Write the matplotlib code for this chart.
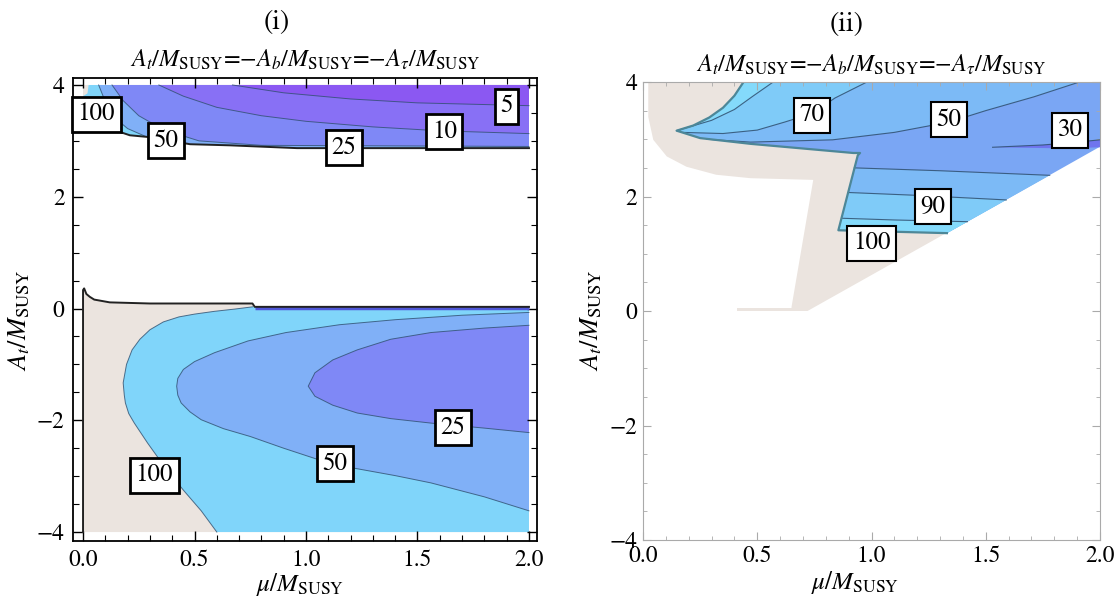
import matplotlib
matplotlib.use('Agg')
import matplotlib.pyplot as plt
from matplotlib.ticker import FixedLocator, FormatStrFormatter
import numpy as np

plt.rcParams['font.family'] = 'STIXGeneral'
plt.rcParams['mathtext.fontset'] = 'stix'

# ---------------- panel (i) data (contours) ----------------
# lower region: upper edge (black line), starts up the x=0 edge
low_top_x = [0.0, 0.0, 0.005, 0.015, 0.03, 0.05, 0.12, 0.30, 0.76, 0.77, 2.0]
low_top_y = [-4.0, 0.33, 0.36, 0.26, 0.21, 0.16, 0.11, 0.09, 0.09, 0.03, 0.03]
# contour 100 (beige | 50-100)
c100_low_x = [0.76, 0.68, 0.59, 0.50, 0.43, 0.36, 0.30, 0.255, 0.22, 0.195, 0.18,
              0.185, 0.19, 0.205, 0.23, 0.26, 0.29, 0.36, 0.45, 0.53, 0.60]
c100_low_y = [0.03, -0.01, -0.05, -0.10, -0.15, -0.24, -0.38, -0.55, -0.74, -1.00, -1.33,
              -1.55, -1.69, -1.88, -2.05, -2.23, -2.41, -2.80, -3.25, -3.62, -4.0]
# contour 50
c50_low_x = [2.0, 1.70, 1.40, 1.15, 0.91, 0.74, 0.59, 0.50, 0.45, 0.425, 0.42, 0.425,
             0.44, 0.48, 0.53, 0.63, 0.75, 0.90, 1.06, 1.22, 1.40, 1.56, 1.80, 2.0]
c50_low_y = [-0.07, -0.12, -0.20, -0.29, -0.43, -0.58, -0.79, -0.95, -1.09, -1.25, -1.39, -1.55,
             -1.69, -1.85, -1.99, -2.15, -2.29, -2.50, -2.71, -2.86, -2.99, -3.12, -3.37, -3.62]
# contour 25
c25_low_x = [2.0, 1.80, 1.56, 1.38, 1.23, 1.12, 1.04, 1.01, 1.04, 1.12, 1.23, 1.38, 1.56, 1.80, 2.0]
c25_low_y = [-0.30, -0.35, -0.43, -0.55, -0.74, -0.92, -1.15, -1.39, -1.57, -1.73, -1.87,
             -1.97, -2.05, -2.14, -2.22]

# upper region: lower edge (black line)
top_bot_x = [0.0, 0.10, 0.15, 0.21, 0.29, 0.48, 0.66, 0.96, 2.0]
top_bot_y = [3.22, 3.20, 3.18, 3.10, 3.07, 2.94, 2.92, 2.87, 2.87]
c100_top_x = [0.0, 0.025, 0.02, 0.0]
c100_top_y = [4.0, 4.0, 3.85, 3.8]
c50_top_x = [0.07, 0.10, 0.14, 0.20, 0.28]
c50_top_y = [4.0, 3.70, 3.42, 3.22, 3.08]
c25_top_x = [0.13, 0.18, 0.25, 0.36, 0.52, 0.80, 2.0]
c25_top_y = [4.0, 3.72, 3.45, 3.20, 3.00, 2.92, 2.90]
c10_top_x = [0.34, 0.45, 0.60, 0.80, 1.00, 1.30, 1.60, 2.0]
c10_top_y = [4.0, 3.80, 3.60, 3.45, 3.35, 3.25, 3.18, 3.13]
c5_top_x = [0.67, 0.90, 1.20, 1.50, 2.0]
c5_top_y = [4.0, 3.86, 3.75, 3.68, 3.63]

labels_i = ['100', '50', '25', '10', '5', '100', '50', '25']
labels_i_x = [0.06, 0.37, 1.17, 1.62, 1.90, 0.32, 1.13, 1.66]
labels_i_y = [3.48, 3.00, 2.88, 3.16, 3.62, -2.98, -2.78, -2.13]

# ---------------- panel (ii) data ----------------
r_outer_x = [0.023, 0.023, 0.045, 0.104, 0.19, 0.32, 0.47, 0.745, 0.65, 0.65]
r_outer_y = [4.0, 3.39, 2.99, 2.70, 2.52, 2.38, 2.32, 2.29, 0.07, 0.0]
diag_x = [0.72, 2.0]
diag_y = [0.0, 2.87]
strip_x = [0.41, 0.65]
arm_up_x = [0.147, 0.22, 0.29, 0.35, 0.40, 0.44]
arm_up_y = [3.15, 3.24, 3.38, 3.55, 3.76, 4.0]
arm_low_x = [0.92, 0.47, 0.25, 0.147]
arm_low_y = [2.76, 2.92, 3.02, 3.15]
low_left_x = [0.855, 0.94, 0.95]
low_left_y = [1.41, 2.72, 2.76]
low_bot_x = [0.855, 1.33]
low_bot_y = [1.41, 1.36]
# contours in the arm
c90_arm_x = [0.147, 0.30, 0.40, 0.48, 0.57]
c90_arm_y = [3.15, 3.33, 3.52, 3.75, 4.0]
c70_arm_x = [0.17, 0.35, 0.50, 0.62, 0.74, 0.84, 0.98]
c70_arm_y = [3.12, 3.10, 3.16, 3.30, 3.45, 3.72, 4.0]
c50_arm_x = [0.28, 0.47, 0.83, 1.10, 1.34, 1.50, 1.71, 1.91]
c50_arm_y = [3.00, 2.95, 2.99, 3.12, 3.30, 3.50, 3.74, 4.0]
# contours in the lower part
c50_lo_x = [0.925, 1.30, 1.78]
c50_lo_y = [2.50, 2.45, 2.37]
c70_lo_x = [0.898, 1.20, 1.59]
c70_lo_y = [2.07, 2.02, 1.94]
c90_lo_x = [0.87, 1.10, 1.42]
c90_lo_y = [1.62, 1.59, 1.56]
c30_x = [1.53, 1.75, 1.90, 2.0, 2.0, 1.85]
c30_y = [2.86, 2.90, 2.95, 2.99, 2.86, 2.84]

labels_ii = ['70', '50', '30', '90', '100']
labels_ii_x = [0.74, 1.34, 1.87, 1.27, 1.00]
labels_ii_y = [3.42, 3.34, 3.16, 1.82, 1.18]

# colours
BEIGE = '#ebe4df'
L_50_100 = '#80d5fa'
L_25_50 = '#80b0f7'
L_10_25 = '#7f88f6'
L_5_10 = '#8870f5'
L_LT5 = '#8b58f2'
R_90 = '#84dafb'
R_70 = '#7fcbf8'
R_50 = '#7cbaf6'
R_30 = '#7aa6f4'
R_LT30 = '#6f74ee'
LINE = '#2f4f6f'


def diag_at(x):
    return diag_y[0] + (x - diag_x[0]) / (diag_x[1] - diag_x[0]) * (diag_y[1] - diag_y[0])


fig = plt.figure(figsize=(11.18, 6.01), dpi=100)
ax1 = fig.add_axes([73 / 1118, 1 - 541 / 601, 464 / 1118, 463 / 601])
ax2 = fig.add_axes([643 / 1118, 1 - 540 / 601, 457 / 1118, 458 / 601])

# ---------- panel (i) ----------
ax = ax1
# lower region
ax.fill(low_top_x + [2.0], low_top_y + [-4.0], color=BEIGE, lw=0)
ax.fill(c100_low_x + [2.0, 2.0], c100_low_y + [-4.0, 0.03], color=L_50_100, lw=0)
ax.fill(c50_low_x, c50_low_y, color=L_25_50, lw=0)
ax.fill(c25_low_x, c25_low_y, color=L_10_25, lw=0)
for xs, ys in [(c100_low_x, c100_low_y), (c50_low_x, c50_low_y), (c25_low_x, c25_low_y)]:
    ax.plot(xs, ys, color=LINE, lw=0.7, alpha=0.8)
ax.plot([0.77, 2.0], [0.015, 0.015], color='#5058d8', lw=2.5, solid_capstyle='butt')
ax.plot(low_top_x, low_top_y, color='#222222', lw=1.4)

# upper region
ax.fill([0.0, 2.0] + top_bot_x[::-1], [4.0, 4.0] + top_bot_y[::-1], color=L_50_100, lw=0)
ax.fill(c100_top_x, c100_top_y, color=BEIGE, lw=0)
ax.fill(c50_top_x + [x for x in top_bot_x if x > c50_top_x[-1]] + [2.0],
        c50_top_y + [y for x, y in zip(top_bot_x, top_bot_y) if x > c50_top_x[-1]] + [4.0],
        color=L_25_50, lw=0)
ax.fill(c25_top_x + [2.0], c25_top_y + [4.0], color=L_10_25, lw=0)
ax.fill(c10_top_x + [2.0], c10_top_y + [4.0], color=L_5_10, lw=0)
ax.fill(c5_top_x + [2.0], c5_top_y + [4.0], color=L_LT5, lw=0)
for xs, ys in [(c50_top_x, c50_top_y), (c25_top_x, c25_top_y),
               (c10_top_x, c10_top_y), (c5_top_x, c5_top_y)]:
    ax.plot(xs, ys, color=LINE, lw=0.7, alpha=0.8)
ax.plot(top_bot_x, top_bot_y, color='#222222', lw=1.4)

for t, x, y in zip(labels_i, labels_i_x, labels_i_y):
    ax.text(x, y, t, ha='center', va='center', fontsize=18,
            bbox=dict(boxstyle='square,pad=0.22', fc='white', ec='black', lw=2))

ax.set_xlim(-0.045, 2.036)
ax.set_ylim(-4.16, 4.125)
ax.xaxis.set_major_locator(FixedLocator([0, 0.5, 1.0, 1.5, 2.0]))
ax.xaxis.set_minor_locator(FixedLocator(np.arange(0, 2.01, 0.1)))
ax.yaxis.set_major_locator(FixedLocator([-4, -2, 0, 2, 4]))
ax.yaxis.set_minor_locator(FixedLocator(np.arange(-4, 4.01, 0.5)))
ax.xaxis.set_major_formatter(FormatStrFormatter('%.1f'))
ax.tick_params(which='both', direction='in', top=True, right=True, labelsize=17)
ax.tick_params(which='major', length=7, width=1.0, pad=6)
ax.tick_params(which='minor', length=4, width=0.8)
for s in ax.spines.values():
    s.set_linewidth(1.3)

# ---------- panel (ii) ----------
ax = ax2
# beige band
ax.fill(r_outer_x + [diag_x[0], 1.33, 1.2], r_outer_y + [diag_y[0], diag_at(1.33), 4.0],
        color=BEIGE, lw=0)
ax.fill_between(strip_x, 0.0, 0.05, color=BEIGE, lw=0)

blue_x = arm_up_x[-1:] + [2.0, 2.0, low_bot_x[1], low_bot_x[0]] + low_left_x[1:] + arm_low_x + arm_up_x
blue_y = arm_up_y[-1:] + [4.0, diag_at(2.0), low_bot_y[1], low_bot_y[0]] + low_left_y[1:] + arm_low_y + arm_up_y
ax.fill(blue_x, blue_y, color=R_30, lw=0)

# arm bands
arm_back_x = arm_up_x[::-1]
arm_back_y = arm_up_y[::-1]
ax.fill(c50_arm_x + arm_back_x + [0.25], c50_arm_y + arm_back_y + [3.02], color=R_50, lw=0)
ax.fill(c70_arm_x + arm_back_x, c70_arm_y + arm_back_y, color=R_70, lw=0)
ax.fill(c90_arm_x + arm_back_x, c90_arm_y + arm_back_y, color=R_90, lw=0)

# lower part bands
for xs, ys, col in [(c50_lo_x, c50_lo_y, R_50), (c70_lo_x, c70_lo_y, R_70), (c90_lo_x, c90_lo_y, R_90)]:
    ax.fill(xs + [low_bot_x[1], low_bot_x[0]], ys + [low_bot_y[1], low_bot_y[0]], color=col, lw=0)

ax.fill(c30_x, c30_y, color=R_LT30, lw=0)

for xs, ys in [(c90_arm_x, c90_arm_y), (c70_arm_x, c70_arm_y), (c50_arm_x, c50_arm_y),
               (c50_lo_x, c50_lo_y), (c70_lo_x, c70_lo_y), (c90_lo_x, c90_lo_y),
               (c30_x[:4], c30_y[:4])]:
    ax.plot(xs, ys, color=LINE, lw=0.8, alpha=0.85)
ax.plot(blue_x[3:], blue_y[3:], color='#4d8798', lw=1.6)

for t, x, y in zip(labels_ii, labels_ii_x, labels_ii_y):
    ax.text(x, y, t, ha='center', va='center', fontsize=18,
            bbox=dict(boxstyle='square,pad=0.22', fc='white', ec='black', lw=1.5))

ax.set_xlim(0, 2)
ax.set_ylim(-4, 4)
ax.xaxis.set_major_locator(FixedLocator([0, 0.5, 1.0, 1.5, 2.0]))
ax.xaxis.set_minor_locator(FixedLocator(np.arange(0, 2.01, 0.1)))
ax.yaxis.set_major_locator(FixedLocator([-4, -2, 0, 2, 4]))
ax.yaxis.set_minor_locator(FixedLocator(np.arange(-4, 4.01, 0.5)))
ax.xaxis.set_major_formatter(FormatStrFormatter('%.1f'))
ax.tick_params(which='both', direction='in', top=True, right=True, labelsize=17,
               color='#aaaaaa')
ax.tick_params(which='major', length=6, width=0.8, pad=4)
ax.tick_params(which='minor', length=3, width=0.6)
for s in ax.spines.values():
    s.set_linewidth(0.8)
    s.set_color('#aaaaaa')

# titles and axis labels
title = r'$A_t/M_{\rm SUSY}$=$-A_b/M_{\rm SUSY}$=$-A_\tau/M_{\rm SUSY}$'
fig.text(277 / 1118, 1 - 22 / 601, '(i)', ha='center', va='center', fontsize=20)
fig.text(847 / 1118, 1 - 24 / 601, '(ii)', ha='center', va='center', fontsize=20)
fig.text(305 / 1118, 1 - 60 / 601, title, ha='center', va='center', fontsize=17.5)
fig.text(871 / 1118, 1 - 65 / 601, title, ha='center', va='center', fontsize=17.5)
xl = r'$\mu/M_{\rm SUSY}$'
yl = r'$A_t/M_{\rm SUSY}$'
fig.text(300 / 1118, 1 - 585 / 601, xl, ha='center', va='center', fontsize=18)
fig.text(855 / 1118, 1 - 582 / 601, xl, ha='center', va='center', fontsize=18)
fig.text(20 / 1118, 1 - 320 / 601, yl, ha='center', va='center', fontsize=19, rotation=90)
fig.text(592 / 1118, 1 - 320 / 601, yl, ha='center', va='center', fontsize=19, rotation=90)

fig.savefig('out.png', dpi=100)
